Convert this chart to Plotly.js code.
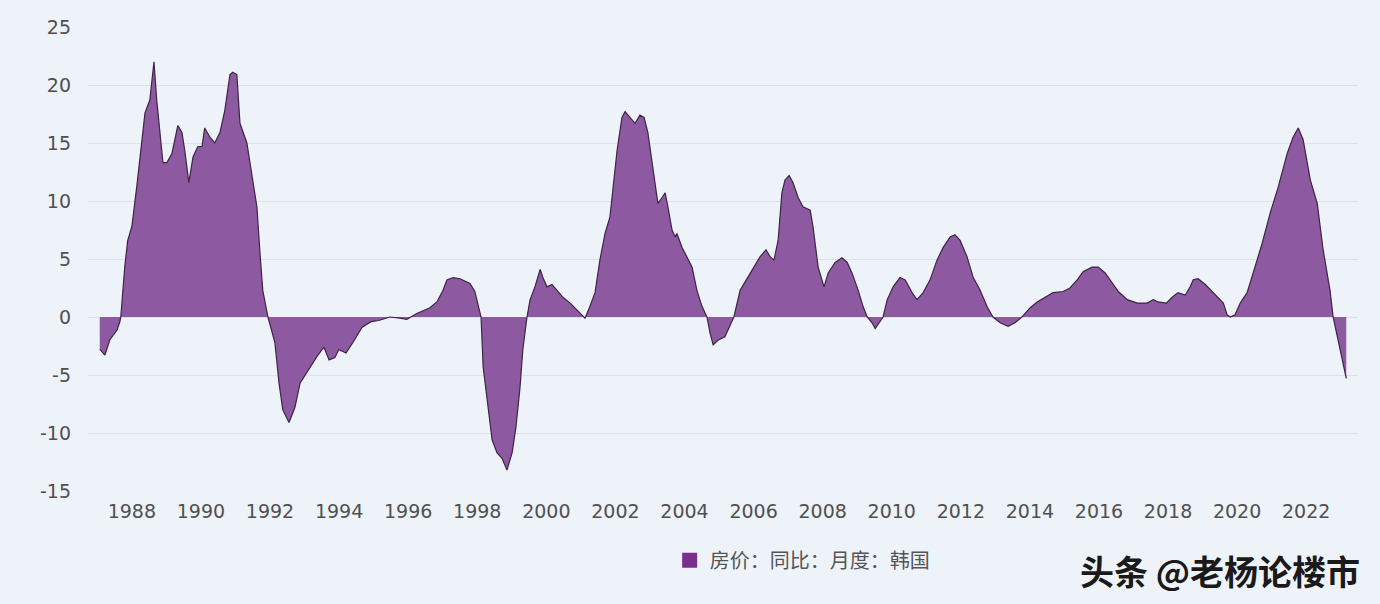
<!DOCTYPE html>
<html>
<head>
<meta charset="utf-8">
<script src="https://cdn.plot.ly/plotly-3.0.1.min.js"></script>
<style>
  html, body { margin: 0; padding: 0; background: #eef2f9; }
  #chart { width: 1380px; height: 604px; }
</style>
</head>
<body>
<div id="chart"></div>
<script>
// Korea house price, YoY %, monthly
const years = [
  1987.07, 1987.22, 1987.36, 1987.57, 1987.65, 1987.68, 1987.74, 1987.80, 1987.88,
  1988.00, 1988.14, 1988.29, 1988.38, 1988.52, 1988.64, 1988.72, 1988.90,
  1989.01, 1989.16, 1989.33, 1989.45, 1989.53, 1989.65, 1989.77, 1989.91,
  1990.03, 1990.11, 1990.26, 1990.40, 1990.55, 1990.69, 1990.84, 1990.92,
  1991.04, 1991.13, 1991.33, 1991.50, 1991.62, 1991.71, 1991.79, 1991.94,
  1992.14, 1992.26, 1992.37, 1992.55, 1992.72, 1992.87,
  1993.10, 1993.36, 1993.56, 1993.71, 1993.88, 1993.99,
  1994.20, 1994.40, 1994.66, 1994.92, 1995.15, 1995.47, 1995.76, 1995.96,
  1996.25, 1996.63, 1996.83, 1997.01, 1997.12, 1997.30, 1997.50, 1997.79, 1997.93,
  1998.02, 1998.11, 1998.17, 1998.28, 1998.43, 1998.57, 1998.72, 1998.86,
  1999.01, 1999.12, 1999.24, 1999.32, 1999.44, 1999.53, 1999.67, 1999.82, 1999.90,
  2000.02, 2000.16, 2000.31, 2000.48, 2000.69, 2000.89,
  2001.03, 2001.12, 2001.26, 2001.41, 2001.55, 2001.70, 2001.84, 2001.93,
  2002.05, 2002.19, 2002.28, 2002.42, 2002.57, 2002.71, 2002.83, 2002.94,
  2003.09, 2003.23, 2003.35, 2003.44, 2003.52, 2003.64, 2003.73, 2003.78, 2003.93,
  2004.07, 2004.22, 2004.36, 2004.51, 2004.65, 2004.74, 2004.83, 2004.97,
  2005.17, 2005.29, 2005.43, 2005.61, 2005.90,
  2006.19, 2006.36, 2006.48, 2006.59, 2006.71, 2006.82, 2006.91,
  2007.03, 2007.14, 2007.29, 2007.43, 2007.64, 2007.72, 2007.87,
  2008.04, 2008.16, 2008.36, 2008.56, 2008.71, 2008.85,
  2009.03, 2009.17, 2009.29, 2009.43, 2009.52, 2009.75, 2009.87,
  2010.04, 2010.24, 2010.39, 2010.59, 2010.73, 2010.91,
  2011.11, 2011.31, 2011.49, 2011.69, 2011.83, 2011.98,
  2012.18, 2012.36, 2012.56, 2012.76, 2012.93,
  2013.14, 2013.37, 2013.57, 2013.77,
  2014.01, 2014.21, 2014.44, 2014.67, 2014.96,
  2015.16, 2015.37, 2015.54, 2015.80, 2015.98,
  2016.18, 2016.38, 2016.56, 2016.82,
  2017.11, 2017.40, 2017.57, 2017.71, 2017.95,
  2018.12, 2018.29, 2018.50, 2018.64, 2018.73, 2018.87,
  2019.08, 2019.28, 2019.45, 2019.60, 2019.71, 2019.80, 2019.94,
  2020.09, 2020.29, 2020.47, 2020.73, 2020.96,
  2021.19, 2021.45, 2021.62, 2021.77, 2021.91,
  2022.12, 2022.32, 2022.49, 2022.69, 2022.78, 2022.93,
  2023.07, 2023.16
];
const yoy = [
  -2.76, -3.28, -1.98, -1.12, -0.43, 0.0, 2.3, 4.5, 6.6,
  7.8, 11.2, 15.3, 17.6, 18.7, 22.0, 18.7, 13.3,
  13.3, 14.1, 16.5, 15.9, 14.4, 11.6, 13.8, 14.7,
  14.7, 16.3, 15.5, 15.0, 15.9, 17.8, 20.9, 21.1,
  20.9, 16.7, 15.0, 11.8, 9.5, 5.5, 2.3, 0.0,
  -2.2, -5.7, -8.0, -9.1, -7.8, -5.7,
  -4.6, -3.4, -2.6, -3.7, -3.5, -2.8,
  -3.1, -2.2, -0.9, -0.4, -0.3, 0.0, -0.1, -0.2,
  0.3, 0.8, 1.3, 2.3, 3.2, 3.4, 3.3, 2.9, 2.2,
  1.2, 0.0, -4.3, -7.2, -10.6, -11.7, -12.2, -13.2,
  -11.7, -9.5, -6.0, -2.8, 0.0, 1.5, 2.6, 4.1, 3.4,
  2.6, 2.8, 2.3, 1.7, 1.2, 0.6,
  0.2, -0.1, 0.9, 2.1, 4.9, 7.2, 8.6, 11.2,
  14.4, 17.2, 17.7, 17.2, 16.7, 17.4, 17.2, 15.9,
  12.9, 9.8, 10.3, 10.7, 9.5, 7.5, 6.9, 7.2, 6.0,
  5.2, 4.3, 2.3, 0.9, 0.0, -1.4, -2.4, -2.0,
  -1.7, -0.9, 0.0, 2.3, 3.8,
  5.2, 5.8, 5.2, 4.9, 6.6, 10.7, 11.8,
  12.2, 11.6, 10.3, 9.5, 9.2, 7.8, 4.3,
  2.6, 3.8, 4.7, 5.1, 4.7, 3.8,
  2.3, 0.9, 0.0, -0.5, -1.0, 0.0, 1.5,
  2.6, 3.4, 3.2, 2.1, 1.5, 2.1,
  3.2, 4.9, 6.0, 6.9, 7.1, 6.6,
  5.2, 3.4, 2.3, 0.9, 0.0,
  -0.5, -0.8, -0.5, 0.0,
  0.8, 1.3, 1.7, 2.1, 2.2,
  2.5, 3.2, 3.9, 4.3, 4.3,
  3.8, 2.9, 2.2, 1.5,
  1.2, 1.2, 1.5, 1.3, 1.2,
  1.7, 2.1, 1.9, 2.6, 3.2, 3.3,
  2.8, 2.2, 1.6, 1.2, 0.2, 0.0, 0.2,
  1.2, 2.1, 3.8, 6.4, 9.0,
  11.2, 14.1, 15.5, 16.3, 15.3,
  11.8, 9.8, 5.8, 2.3, 0.0, -2.0,
  -4.0, -5.3
];
const xTickVals = [1988, 1990, 1992, 1994, 1996, 1998, 2000, 2002, 2004, 2006, 2008, 2010, 2012, 2014, 2016, 2018, 2020, 2022];
const xTickText = xTickVals.map(String);
const yTickVals = [25, 20, 15, 10, 5, 0, -5, -10, -15];
const yTickText = ["25", "20", "15", "10", "5", "0", "-5", "-10", "-15"];
const seriesName = "房价：同比：月度：韩国";
const watermark = "头条 @老杨论楼市";

const area = {
  type: "scatter",
  mode: "lines",
  x: years,
  y: yoy,
  fill: "tozeroy",
  fillcolor: "#8d59a0",
  line: { color: "#3e2448", width: 1.2 },
  showlegend: false,
  hoverinfo: "skip"
};
const legendSwatch = {
  type: "scatter",
  mode: "markers",
  x: [null],
  y: [null],
  name: seriesName,
  marker: { symbol: "square", size: 15, color: "#7b2e8c" },
  showlegend: true,
  hoverinfo: "skip"
};

const tickFont = { family: "'DejaVu Sans', sans-serif", size: 19, color: "#505050" };

const layout = {
  width: 1380,
  height: 604,
  paper_bgcolor: "#eef2f9",
  plot_bgcolor: "#eef2f9",
  margin: { l: 88, r: 22, t: 27, b: 113 },
  xaxis: {
    range: [1986.73, 2023.5],
    tickmode: "array",
    tickvals: xTickVals,
    ticktext: xTickText,
    showgrid: false,
    zeroline: false,
    showline: false,
    ticks: "",
    ticklabelstandoff: 7,
    tickfont: tickFont,
    fixedrange: true
  },
  yaxis: {
    range: [-15, 25],
    tickmode: "array",
    tickvals: yTickVals,
    ticktext: yTickText,
    showgrid: true,
    gridcolor: "#dce2eb",
    gridwidth: 1,
    zeroline: false,
    showline: false,
    ticks: "",
    ticklabelstandoff: 16,
    tickfont: tickFont,
    fixedrange: true
  },
  showlegend: true,
  legend: {
    orientation: "h",
    x: 0.458,
    xanchor: "left",
    y: -0.149,
    yanchor: "middle",
    bgcolor: "rgba(0,0,0,0)",
    font: { family: "'Noto Sans CJK SC', sans-serif", size: 20, color: "#555555" },
    itemwidth: 30
  },
  annotations: [{
    text: watermark,
    xref: "paper",
    yref: "paper",
    x: 1.003,
    y: -0.172,
    xanchor: "right",
    yanchor: "middle",
    showarrow: false,
    font: { family: "'Noto Sans CJK SC', sans-serif", size: 34, color: "#1a1a1a", weight: 700 }
  }],
  hovermode: false
};

Plotly.newPlot("chart", [area, legendSwatch], layout, { displayModeBar: false, staticPlot: true });
</script>
</body>
</html>
